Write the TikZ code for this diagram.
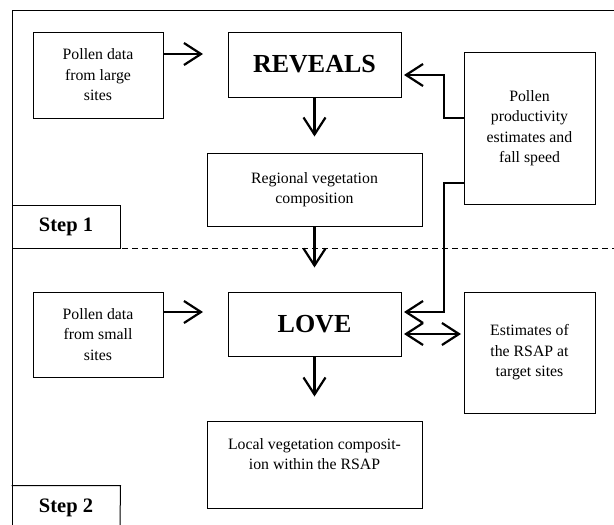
\documentclass[tikz,border=0pt]{standalone}
\usepackage{fontspec}
\setmainfont{Liberation Serif}
\usetikzlibrary{arrows.meta}
\begin{document}
\begin{tikzpicture}[x=1pt,y=-1pt,
  box/.style={draw, line width=1pt, inner sep=0pt, align=center,
    font=\fontsize{15.8}{20.5}\selectfont},
  bigbox/.style={box, font=\fontsize{26}{30}\selectfont\bfseries},
  stepbox/.style={draw, line width=1pt, inner sep=0pt, align=center,
    minimum width=108pt, font=\fontsize{20.5}{24}\selectfont\bfseries},
  tip/.style={},
  arr/.style={line width=2.2pt, -{Straight Barb[length=17pt,width=22pt]}},
  thinarr/.style={line width=1.4pt, -{Straight Barb[length=17pt,width=22pt,line width=2.2pt]}},
  dblarr/.style={line width=2.2pt, {Straight Barb[length=17pt,width=22pt]}-{Straight Barb[length=17pt,width=22pt]}},
  frame/.style={line width=1pt},
  sep/.style={line width=1pt, dash pattern=on 6pt off 4pt}]
\useasboundingbox (0,0) rectangle (614,525);
% frame
\coordinate (ftr) at (614,10);
\coordinate (ftl) at (12,10);
\coordinate (fbl) at (12,525);
\draw[frame] (ftr) -- (ftl) -- (fbl);
% separator
\coordinate (dl) at (12,248);
\coordinate (dr) at (614,248);
\draw[sep] (dl) -- (dr);
% boxes
\node[box, minimum width=130pt, minimum height=86pt] (large) at (98,75)
  {Pollen data\\from large\\sites};
\node[bigbox, minimum width=173pt, minimum height=65pt] (reveals) at (314.5,64.5) {REVEALS};
\node[box, minimum width=215pt, minimum height=73pt] (regional) at (314.5,189.5)
  {Regional vegetation\\composition};
\node[stepbox, minimum height=43pt] (step1) at (66,226.5) {Step 1};
\node[box, minimum width=131pt, minimum height=152pt] (pp) at (529.5,128)
  {Pollen\\productivity\\estimates and\\fall speed};
\node[box, minimum width=130pt, minimum height=85pt] (small) at (98,334.5)
  {Pollen data\\from small\\sites};
\node[bigbox, minimum width=173pt, minimum height=64pt] (love) at (314.5,324) {LOVE};
\node[box, minimum width=215pt, minimum height=87pt] (local) at (314.5,464.5)
  {Local vegetation composit-\\ion within the RSAP\\\mbox{}};
\node[box, minimum width=131pt, minimum height=121pt] (est) at (529.5,352.5)
  {Estimates of\\the RSAP at\\target sites};
\node[stepbox, draw=none, minimum height=44pt] (step2) at (66,508) {Step 2};
\coordinate (s2end) at (120,525);
\draw[frame] (step2.north west) -- (step2.north east) -- (s2end);
% arrows
\coordinate (a1s) at (163,54);
\coordinate (a1e) at (228,54);
\draw[arr, shorten >=25pt] (a1s) -- (a1e);
\coordinate (a2s) at (163,312);
\coordinate (a2e) at (228,312);
\draw[arr, shorten >=25pt] (a2s) -- (a2e);
\draw[arr, shorten >=16pt] (reveals.south) -- (regional.north);
\draw[arr, shorten >=24pt] (regional.south) -- (love.north);
\draw[arr, shorten >=24pt] (love.south) -- (local.north);
% pollen productivity connectors
\coordinate (p1s) at (464,118);
\coordinate (p1m) at (444,75);
\coordinate (p1e) at (401,75);
\draw[thinarr, shorten >=3pt] (p1s) -| (p1m) -- (p1e);
\coordinate (p2s) at (464,183);
\coordinate (p2m) at (444,312);
\coordinate (p2e) at (401,312);
\draw[thinarr, shorten >=3pt] (p2s) -| (p2m) -- (p2e);
% double arrow
\coordinate (d1) at (401,334);
\coordinate (d2) at (464,334);
\draw[dblarr, shorten >=3pt, shorten <=3pt] (d1) -- (d2);
\end{tikzpicture}
\end{document}
